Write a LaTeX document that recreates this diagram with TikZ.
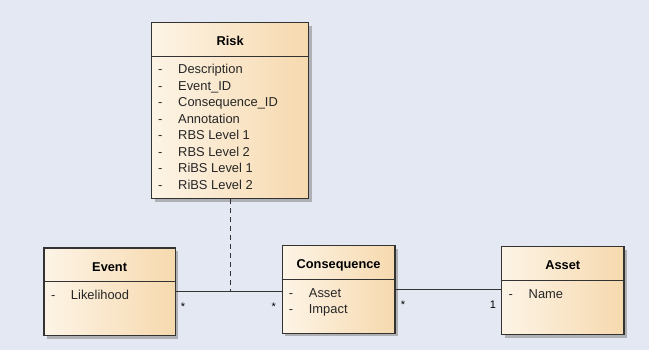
\documentclass[tikz,border=0pt]{standalone}
\usepackage{fontspec}
\setmainfont{Liberation Sans}
\usetikzlibrary{shadows}
\definecolor{canvas}{HTML}{E4E8F2}
\definecolor{boxlight}{HTML}{FDF4E6}
\definecolor{boxdark}{HTML}{F6D9AE}
\newcommand{\attr}[1]{\makebox[20pt][l]{-}#1}
\tikzset{classbox/.style={draw=black!80, line width=1.3pt, left color=boxlight, right color=boxdark, drop shadow={shadow xshift=3pt, shadow yshift=-3pt, fill=black!45, opacity=0.6}, inner sep=0pt, anchor=north west},
 classname/.style={font=\bfseries\fontsize{12.8}{15}\selectfont, inner sep=0pt, anchor=base},
 attrlist/.style={font=\fontsize{12.9}{16.5}\selectfont, text=black!85, align=left, inner sep=0pt, anchor=north west},
 divider/.style={black!80, line width=1.1pt},
 assoc/.style={black!80, line width=0.9pt},
 mult/.style={font=\fontsize{11}{12}\selectfont, inner sep=0pt, anchor=base}}

\begin{document}
\begin{tikzpicture}[x=1pt,y=-1pt]
  \fill[canvas] (0,0) rectangle (649,350);
  \useasboundingbox (0,0) rectangle (649,350);
  % classes
  \node[classbox, minimum width=157pt, minimum height=176pt] (risk) at (151,22) {};
  \node[classbox, minimum width=131.4pt, minimum height=87.7pt] (event) at (43.3,247.3) {};
  \node[classbox, minimum width=112.6pt, minimum height=87.7pt] (conseq) at (281.7,245) {};
  \node[classbox, minimum width=122.3pt, minimum height=88pt] (asset) at (501,246) {};
  \foreach \c in {risk,event,conseq,asset}
    \draw[divider] ([yshift=-34.5pt]\c.north west) -- ([yshift=-34.5pt]\c.north east);
  \node[classname] (risk-name) at ([yshift=-24pt]risk.north) {Risk};
  \node[classname] (event-name) at ([yshift=-24pt]event.north) {Event};
  \node[classname] (conseq-name) at ([yshift=-24pt]conseq.north) {Consequence};
  \node[classname] (asset-name) at ([yshift=-24pt]asset.north) {Asset};
  \node[attrlist] (risk-attr) at ([xshift=7pt,yshift=-42pt]risk.north west)
    {\attr{Description}\\ \attr{Event\_ID}\\ \attr{Consequence\_ID}\\ \attr{Annotation}\\
     \attr{RBS Level 1}\\ \attr{RBS Level 2}\\ \attr{RiBS Level 1}\\ \attr{RiBS Level 2}};
  \node[attrlist] (event-attr) at ([xshift=7.5pt,yshift=-43pt]event.north west) {\attr{Likelihood}};
  \node[attrlist] (conseq-attr) at ([xshift=7pt,yshift=-43pt]conseq.north west) {\attr{Asset}\\ \attr{Impact}};
  \node[attrlist] (asset-attr) at ([xshift=7.5pt,yshift=-43pt]asset.north west) {\attr{Name}};
  % associations
  \coordinate (ev-end) at (event.east -| conseq.west);
  \coordinate (as-end) at (conseq.east -| asset.west);
  \coordinate (link) at (risk.south |- event.east);
  \draw[assoc] (event.east) -- (ev-end);
  \draw[assoc] (conseq.east) -- (as-end);
  \draw[assoc, dash pattern=on 5pt off 4pt] (risk.south) -- (link);
  \node[mult] (m-event) at ([xshift=7pt,yshift=-19pt]event.east) {*};
  \node[mult] (m-conseq1) at ([xshift=-8pt,yshift=-19pt]ev-end) {*};
  \node[mult] (m-conseq2) at ([xshift=7.5pt,yshift=-19pt]conseq.east) {*};
  \node[mult] (m-asset) at ([xshift=-8pt,yshift=-19pt]as-end) {1};
\end{tikzpicture}
\end{document}
